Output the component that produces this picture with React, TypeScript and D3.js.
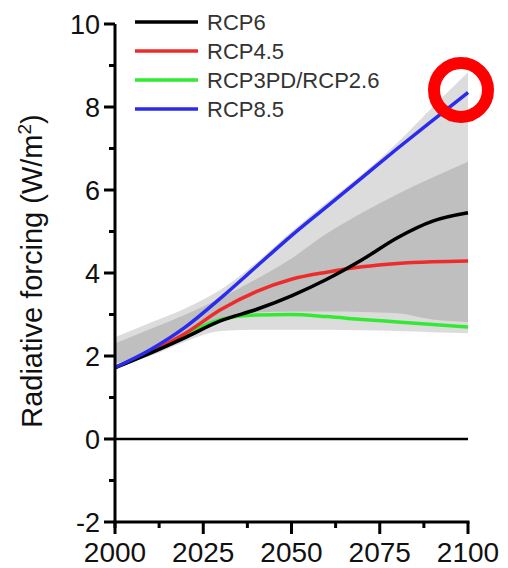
import React, { useRef, useEffect } from 'react';
import * as d3 from 'd3';

// years sampled every decade
const years = [2000, 2010, 2020, 2030, 2040, 2050, 2060, 2070, 2080, 2090, 2100];

// scenario forcing (W/m2)
const rcp6 = [1.72, 2.07, 2.45, 2.85, 3.12, 3.45, 3.85, 4.32, 4.85, 5.25, 5.45];
const rcp45 = [1.72, 2.1, 2.55, 3.12, 3.55, 3.85, 4.02, 4.15, 4.23, 4.27, 4.29];
const rcp26 = [1.72, 2.08, 2.52, 2.88, 2.99, 3.0, 2.95, 2.88, 2.82, 2.76, 2.7];
const rcp85 = [1.72, 2.15, 2.7, 3.4, 4.15, 4.9, 5.6, 6.3, 7.0, 7.68, 8.35];

// uncertainty ranges
const outerHigh = [2.45, 2.8, 3.15, 3.6, 4.25, 5.0, 5.7, 6.38, 7.14, 8.0, 8.84];
const outerLow = [1.78, 2.0, 2.35, 2.6, 2.63, 2.63, 2.63, 2.62, 2.6, 2.57, 2.55];
const innerHigh = [2.3, 2.65, 3.0, 3.4, 3.85, 4.35, 4.95, 5.45, 5.9, 6.3, 6.68];
const innerLow = [1.82, 2.05, 2.4, 2.85, 3.05, 3.07, 3.07, 3.06, 3.03, 2.88, 2.82];

const legendNames = ['RCP6', 'RCP4.5', 'RCP3PD/RCP2.6', 'RCP8.5'];
const legendColors = ['#000000', '#ee2b2b', '#33ea33', '#2b2bee'];

const xTicks = [2000, 2025, 2050, 2075, 2100];
const yTicks = [-2, 0, 2, 4, 6, 8, 10];

const App = () => {
    const svgRef = useRef<SVGSVGElement>(null);

    useEffect(() => {
        const width = 508;
        const height = 568;
        const font = '"Liberation Sans", Arial, sans-serif';

        const svg = d3.select(svgRef.current)
            .attr('width', width)
            .attr('height', height);
        svg.selectAll('*').remove();

        const x = d3.scaleLinear().domain([2000, 2100]).range([115, 468]);
        const y = d3.scaleLinear().domain([-2, 10]).range([522, 24]);

        const band = (hi: number[], lo: number[]) =>
            d3.area<number>()
                .x((d) => x(years[d]))
                .y0((d) => y(lo[d]))
                .y1((d) => y(hi[d]))
                .curve(d3.curveMonotoneX)(d3.range(years.length));

        svg.append('path').attr('d', band(outerHigh, outerLow)).attr('fill', '#dcdcdc');
        svg.append('path').attr('d', band(innerHigh, innerLow)).attr('fill', '#bfbfbf');

        // zero line
        svg.append('line')
            .attr('x1', x(2000)).attr('x2', x(2100))
            .attr('y1', y(0)).attr('y2', y(0))
            .attr('stroke', '#000').attr('stroke-width', 2.5);

        const line = d3.line<number>()
            .x((d, i) => x(years[i]))
            .y((d) => y(d))
            .curve(d3.curveMonotoneX);

        const series = [rcp26, rcp45, rcp6, rcp85];
        const colors = [legendColors[2], legendColors[1], legendColors[0], legendColors[3]];
        series.forEach((s, i) => {
            svg.append('path')
                .attr('d', line(s))
                .attr('fill', 'none')
                .attr('stroke', colors[i])
                .attr('stroke-width', 3.5);
        });

        // axes
        const ax = svg.append('g').attr('stroke', '#000').attr('stroke-width', 3);
        ax.append('line').attr('x1', x(2000)).attr('x2', x(2000)).attr('y1', y(10)).attr('y2', y(-2) + 6);
        ax.append('line').attr('x1', x(2000) - 1.5).attr('x2', x(2100) + 1.5).attr('y1', y(-2)).attr('y2', y(-2));

        d3.range(2000, 2101, 12.5).forEach((t) => {
            const major = t % 25 === 0;
            ax.append('line')
                .attr('x1', x(t)).attr('x2', x(t))
                .attr('y1', y(-2)).attr('y2', y(-2) + (major ? 12 : 6));
        });
        d3.range(-2, 10.1, 1).forEach((t) => {
            const major = t % 2 === 0;
            ax.append('line')
                .attr('x1', x(2000)).attr('x2', x(2000) - (major ? 11 : 6))
                .attr('y1', y(t)).attr('y2', y(t));
        });

        svg.append('g').selectAll('text').data(xTicks).enter().append('text')
            .attr('x', (d) => x(d))
            .attr('y', 562)
            .attr('text-anchor', 'middle')
            .attr('font-family', font)
            .attr('font-size', 28)
            .attr('fill', '#111')
            .text((d) => d);

        svg.append('g').selectAll('text').data(yTicks).enter().append('text')
            .attr('x', 100)
            .attr('y', (d) => y(d))
            .attr('dy', '0.36em')
            .attr('text-anchor', 'end')
            .attr('font-family', font)
            .attr('font-size', 27)
            .attr('fill', '#111')
            .text((d) => d);

        // axis title
        const title = svg.append('text')
            .attr('transform', 'translate(42,271) rotate(-90)')
            .attr('text-anchor', 'middle')
            .attr('font-family', font)
            .attr('font-size', 29)
            .attr('fill', '#111');
        title.append('tspan').text('Radiative forcing (W/m');
        title.append('tspan').attr('font-size', 19).attr('dy', -11).text('2');
        title.append('tspan').attr('dy', 11).text(')');

        // legend
        const lg = svg.append('g');
        legendNames.forEach((name, i) => {
            const ly = 22 + i * 29;
            lg.append('line')
                .attr('x1', 135).attr('x2', 198)
                .attr('y1', ly).attr('y2', ly)
                .attr('stroke', legendColors[i])
                .attr('stroke-width', 3.5);
            lg.append('text')
                .attr('x', 207).attr('y', ly)
                .attr('dy', '0.36em')
                .attr('font-family', font)
                .attr('font-size', 22)
                .attr('fill', '#333')
                .text(name);
        });

        // highlight ring
        svg.append('circle')
            .attr('cx', 461).attr('cy', 90).attr('r', 27)
            .attr('fill', 'none')
            .attr('stroke', '#ff0000')
            .attr('stroke-width', 12);
    }, []);

    return <svg ref={svgRef} style={{ position: 'absolute', left: 0, top: 0 }}></svg>;
};

export default App;
